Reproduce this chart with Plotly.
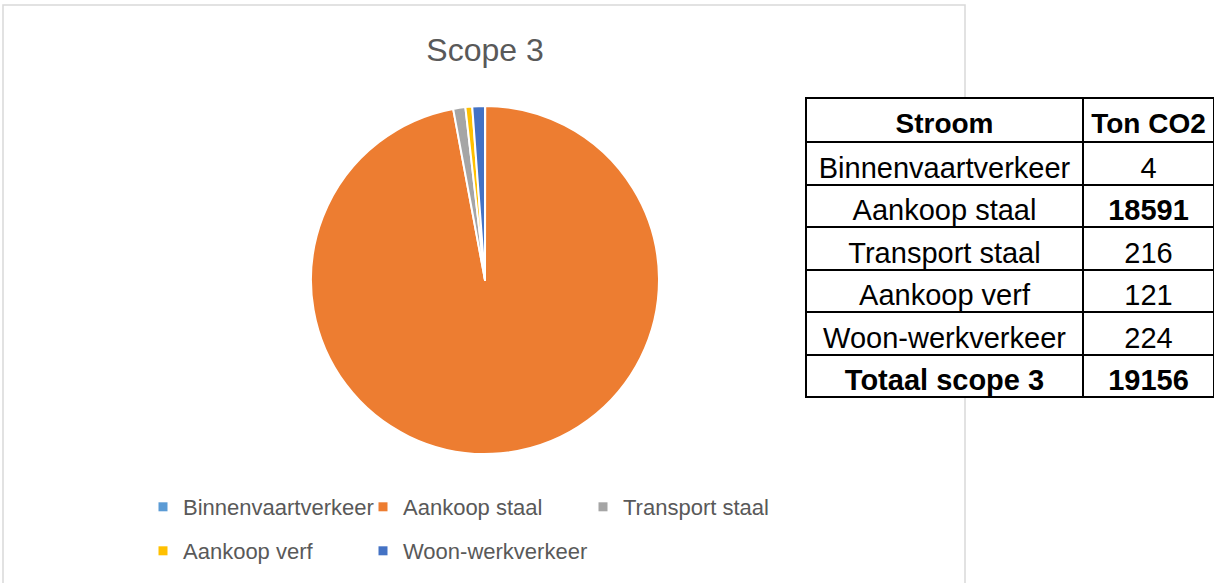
import plotly.graph_objects as go

# ---- data ----
labels = ["Binnenvaartverkeer", "Aankoop staal", "Transport staal", "Aankoop verf", "Woon-werkverkeer"]
values = [4, 18591, 216, 121, 224]
colors = ["#5B9BD5", "#ED7D31", "#A5A5A5", "#FFC000", "#4472C4"]
title_text = "Scope 3"
table_header = ["Stroom", "Ton CO2"]
total_label = "Totaal scope 3"
bold_value_rows = ["Aankoop staal"]

W, H = 1214, 583
FONT = "Liberation Sans"

fig = go.Figure()

# pie
fig.add_trace(go.Pie(
    labels=labels, values=values, sort=False, direction="clockwise", rotation=0,
    marker=dict(colors=colors, line=dict(color="white", width=2)),
    textinfo="none", showlegend=False, hoverinfo="label+value+percent",
    domain=dict(x=[311 / W, 659 / W], y=[1 - 454 / H, 1 - 106 / H]),
))

# legend entries (two rows as in the reference: 3 + 2)
for i, (lab, col) in enumerate(zip(labels, colors)):
    last_in_row = i in (2, 4)
    fig.add_trace(go.Scatter(
        x=[None], y=[None], mode="markers", name=lab,
        marker=dict(symbol="square", size=9, color=col),
        legend="legend" if i < 3 else "legend2",
        legendwidth=230 if last_in_row else 175,
        hoverinfo="skip",
    ))

# table: grid layer, regular-weight text layer, bold text layer (same grid)
total = sum(values)
nb = lambda s: s.replace(" ", "\u00a0")
is_bold2 = [l in bold_value_rows for l in labels]
n_rows = len(labels) + 1

reg_c1 = [nb(l) for l in labels] + [""]
reg_c2 = ["" if b else str(v) for v, b in zip(values, is_bold2)] + [""]
bold_c1 = [""] * len(labels) + [nb(total_label)]
bold_c2 = [str(v) if b else "" for v, b in zip(values, is_bold2)] + [str(total)]

grid_domain = dict(x=[806 / W, 1.0], y=[0.0, 1 - 98 / H])
text_domain = dict(x=[806 / W, 1.0], y=[0.0, 1 - 104 / H])
colw = [277, 131]
HDR_H, ROW_H = 44, 42.5
CLEAR = "rgba(0,0,0,0)"

# grid
fig.add_trace(go.Table(
    domain=grid_domain, columnwidth=colw,
    header=dict(values=["", ""], height=HDR_H, fill_color="white",
                line=dict(color="black", width=2.5)),
    cells=dict(values=[[""] * n_rows, [""] * n_rows], height=ROW_H,
               fill_color="white", line=dict(color="black", width=2)),
))
# regular text
fig.add_trace(go.Table(
    domain=text_domain, columnwidth=colw,
    header=dict(values=[nb(h) for h in table_header], align="center",
                height=HDR_H, fill_color=CLEAR, line=dict(color=CLEAR, width=0),
                font=dict(family=FONT, size=28, color="black", weight="bold")),
    cells=dict(values=[reg_c1, reg_c2], align="center", height=ROW_H,
               fill_color=CLEAR, line=dict(color=CLEAR, width=0),
               font=dict(family=FONT, size=29, color="black", weight="normal")),
))
# bold text
fig.add_trace(go.Table(
    domain=text_domain, columnwidth=colw,
    header=dict(values=["", ""], align="center",
                height=HDR_H, fill_color=CLEAR, line=dict(color=CLEAR, width=0),
                font=dict(family=FONT, size=28, color="black", weight="bold")),
    cells=dict(values=[bold_c1, bold_c2], align="center", height=ROW_H,
               fill_color=CLEAR, line=dict(color=CLEAR, width=0),
               font=dict(family=FONT, size=29, color="black", weight="bold")),
))

leg_common = dict(orientation="h", xanchor="left", yanchor="middle",
                  font=dict(family=FONT, size=22, color="#595959"),
                  bgcolor="rgba(0,0,0,0)",
                  itemclick=False, itemdoubleclick=False)

fig.update_layout(
    width=W, height=H,
    margin=dict(l=0, r=0, t=0, b=0),
    paper_bgcolor="white", plot_bgcolor="white",
    title=dict(text=title_text, x=485 / W, xanchor="center", y=1 - 50 / H, yanchor="middle",
               font=dict(family=FONT, size=32, color="#595959")),
    xaxis=dict(visible=False), yaxis=dict(visible=False),
    legend=dict(x=143 / W, y=1 - 507 / H, **leg_common),
    legend2=dict(x=143 / W, y=1 - 551 / H, **leg_common),
    shapes=[dict(type="rect", xref="paper", yref="paper",
                 x0=3 / W, x1=965 / W, y0=-0.05, y1=1 - 5 / H,
                 line=dict(color="#D9D9D9", width=1.5), layer="below")],
)

fig.write_html("out.html", config={"displayModeBar": False},
               post_script="document.body.style.margin='0';document.body.style.overflow='hidden';")
